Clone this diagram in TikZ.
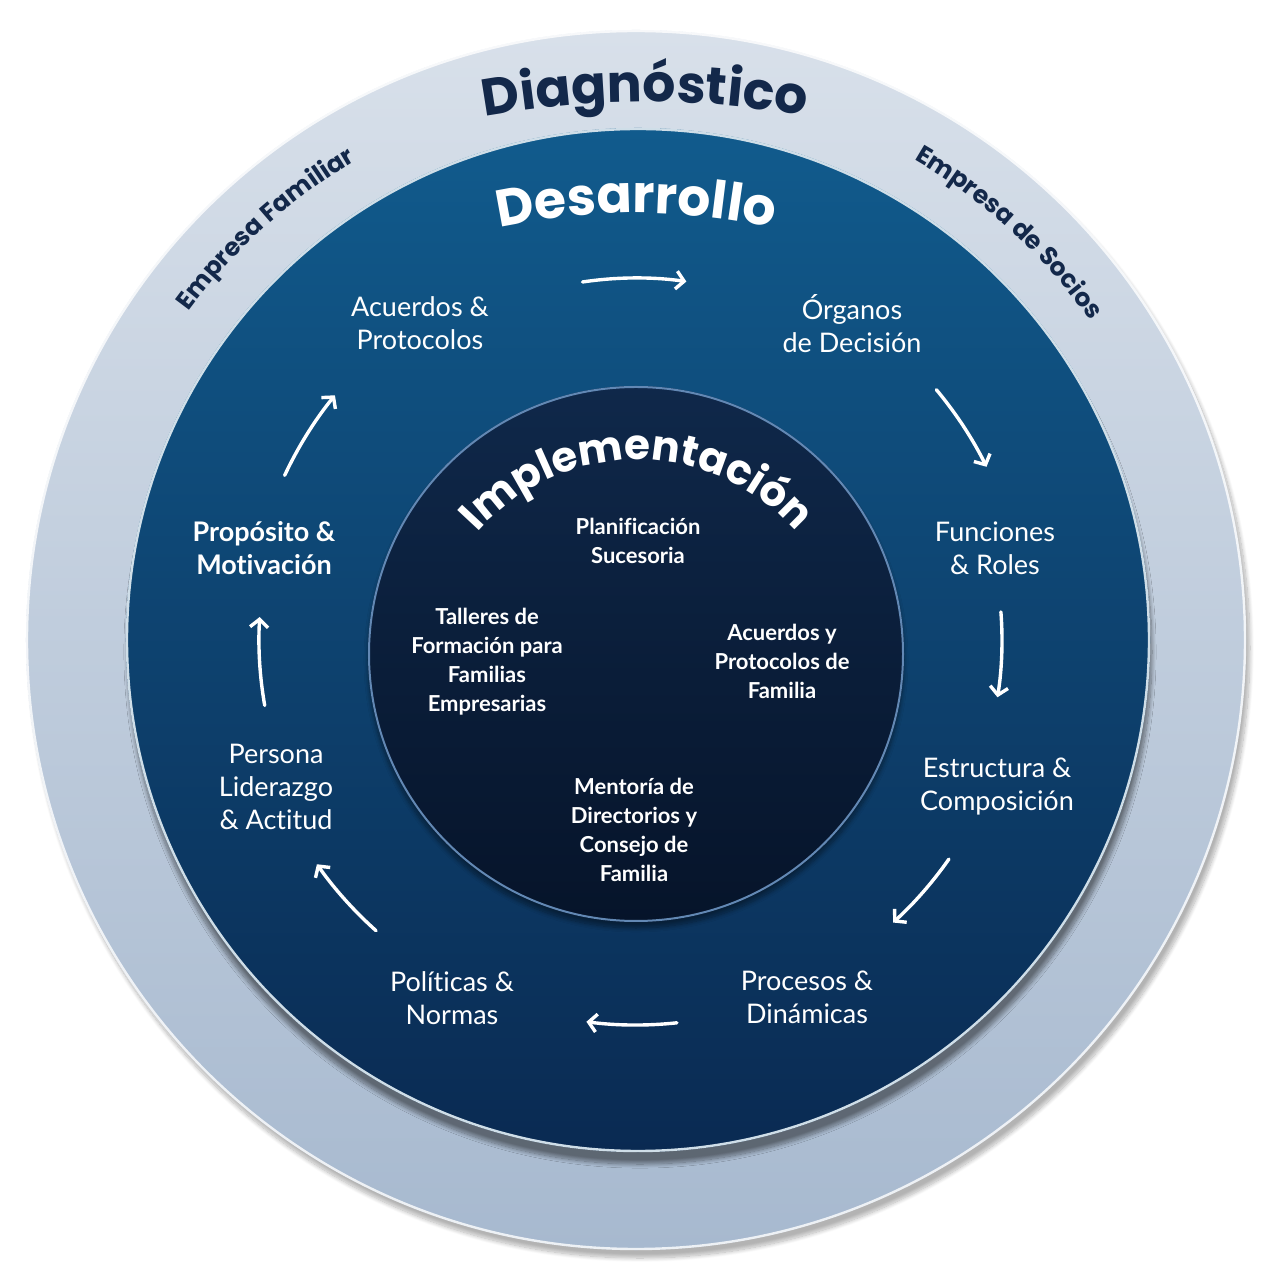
\documentclass[tikz,border=0pt]{standalone}
\usepackage{fontspec}
\setmainfont{Lato}[Ligatures=NoCommon]
\newfontfamily\titlefont{Poppins}[Ligatures=NoCommon]
\usetikzlibrary{decorations.text,arrows.meta,shadows.blur}

\definecolor{ringlight}{HTML}{D8E0EA}
\definecolor{ringdark}{HTML}{A7B9CF}
\definecolor{devtop}{HTML}{115B8D}
\definecolor{devmid}{HTML}{0C3D6E}
\definecolor{devbot}{HTML}{0A2A52}
\definecolor{coretop}{HTML}{0F284A}
\definecolor{corebot}{HTML}{06142A}
\definecolor{navytext}{HTML}{13284A}
\definecolor{rimblue}{HTML}{6288B4}

\tikzset{every picture/.style={line width=0.75pt}}
\tikzset{
  steplabel/.style={text=white, align=center, inner sep=0pt, font=\fontsize{13.5}{16.5}\selectfont},
  corelabel/.style={text=white, align=center, inner sep=0pt, font=\bfseries\fontsize{11}{14.5}\selectfont},
  cyclearrow/.style={white, line width=1.7pt, line cap=round, -{Straight Barb[length=4pt,width=9pt]}},
}

\begin{document}
\begin{tikzpicture}[x=0.5pt,y=0.5pt]
\useasboundingbox (-636,-632) rectangle (636,640);

%Shape: Circle [outer ring]
\shade[top color=ringlight, bottom color=ringdark, blur shadow={shadow xshift=2pt, shadow yshift=-4pt, shadow blur steps=12, shadow opacity=30}] (0,0) circle[radius=610];
\draw[white, line width=1.2pt, opacity=0.8] (0,0) circle[radius=609];

%Shape: Circle [development disc]
\shade[top color=devtop, middle color=devmid, bottom color=devbot, blur shadow={shadow xshift=1pt, shadow yshift=-6pt, shadow blur steps=14, shadow opacity=45}] (2,0) circle[radius=512];
\draw[white!80!devtop, line width=1.2pt] (2,0) circle[radius=511];

%Shape: Circle [core disc]
\shade[top color=coretop, bottom color=corebot, blur shadow={shadow xshift=0pt, shadow yshift=-3pt, shadow blur steps=10, shadow opacity=40}] (0,-14) circle[radius=268];
\draw[rimblue, line width=1pt] (0,-14) circle[radius=267];

%Curved titles
\path[shift={(9,-362)}, decorate, decoration={text along path, text align=center, text color=navytext,
  text={|\titlefont\bfseries\fontsize{26}{26}\selectfont|Diagnóstico}}] (105:900) arc[start angle=105, end angle=75, radius=900];
\path[shift={(0,-230)}, decorate, decoration={text along path, text align=center, text color=white,
  text={|\titlefont\bfseries\fontsize{26}{26}\selectfont|Desarrollo}}] (110:657) arc[start angle=110, end angle=70, radius=657];
\path[shift={(1,-32)}, decorate, decoration={text along path, text align=center, text color=white,
  text={|\titlefont\bfseries\fontsize{21}{21}\selectfont|Implementación}}] (175:212) arc[start angle=175, end angle=5, radius=212];
\path[decorate, decoration={text along path, text align=center, text color=navytext,
  text={|\titlefont\bfseries\fontsize{12.5}{12.5}\selectfont|Empresa Familiar}}] (160:555) arc[start angle=160, end angle=104, radius=555];
\path[decorate, decoration={text along path, text align=center, text color=navytext,
  text={|\titlefont\bfseries\fontsize{12.5}{12.5}\selectfont|Empresa de Socios}}] (76:555) arc[start angle=76, end angle=19, radius=555];

% Text Node
\node[steplabel] (acuerdos) at (-216,317) {Acuerdos \&\\Protocolos};
% Text Node
\node[steplabel] (organos) at (216,316) {Órganos\\de Decisión};
% Text Node
\node[steplabel] (funciones) at (359,92) {Funciones\\\& Roles};
% Text Node
\node[steplabel] (estructura) at (361,-147) {Estructura \&\\Composición};
% Text Node
\node[steplabel] (procesos) at (171,-357) {Procesos \&\\Dinámicas};
% Text Node
\node[steplabel] (politicas) at (-184,-358) {Políticas \&\\Normas};
% Text Node
\node[steplabel] (persona) at (-360,-147) {Persona\\Liderazgo\\\& Actitud};
% Text Node
\node[steplabel, font=\bfseries\fontsize{13.5}{16.5}\selectfont] (proposito) at (-372,92) {Propósito \&\\Motivación};

% Text Node
\node[corelabel] (planif) at (2,99) {Planificación\\Sucesoria};
% Text Node
\node[corelabel] (talleres) at (-149,-22) {Talleres de\\Formación para\\Familias\\Empresarias};
% Text Node
\node[corelabel] (acfam) at (146,-21) {Acuerdos y\\Protocolos de\\Familia};
% Text Node
\node[corelabel] (mentoria) at (-2,-190) {Mentoría de\\Directorios y\\Consejo de\\Familia};

%Curved arrows of the cycle
\foreach \a/\b/\r in {98.5/82/362, 39.8/26.3/391, 4.4/-9/366, -35/-47.7/382,
                      -83.9/-97.4/385, -131.8/-144.9/390, -170/-183.5/377, 154.9/140.9/388}
  \draw[cyclearrow] (\a:\r) arc[start angle=\a, end angle=\b, radius=\r];

\end{tikzpicture}
\end{document}
